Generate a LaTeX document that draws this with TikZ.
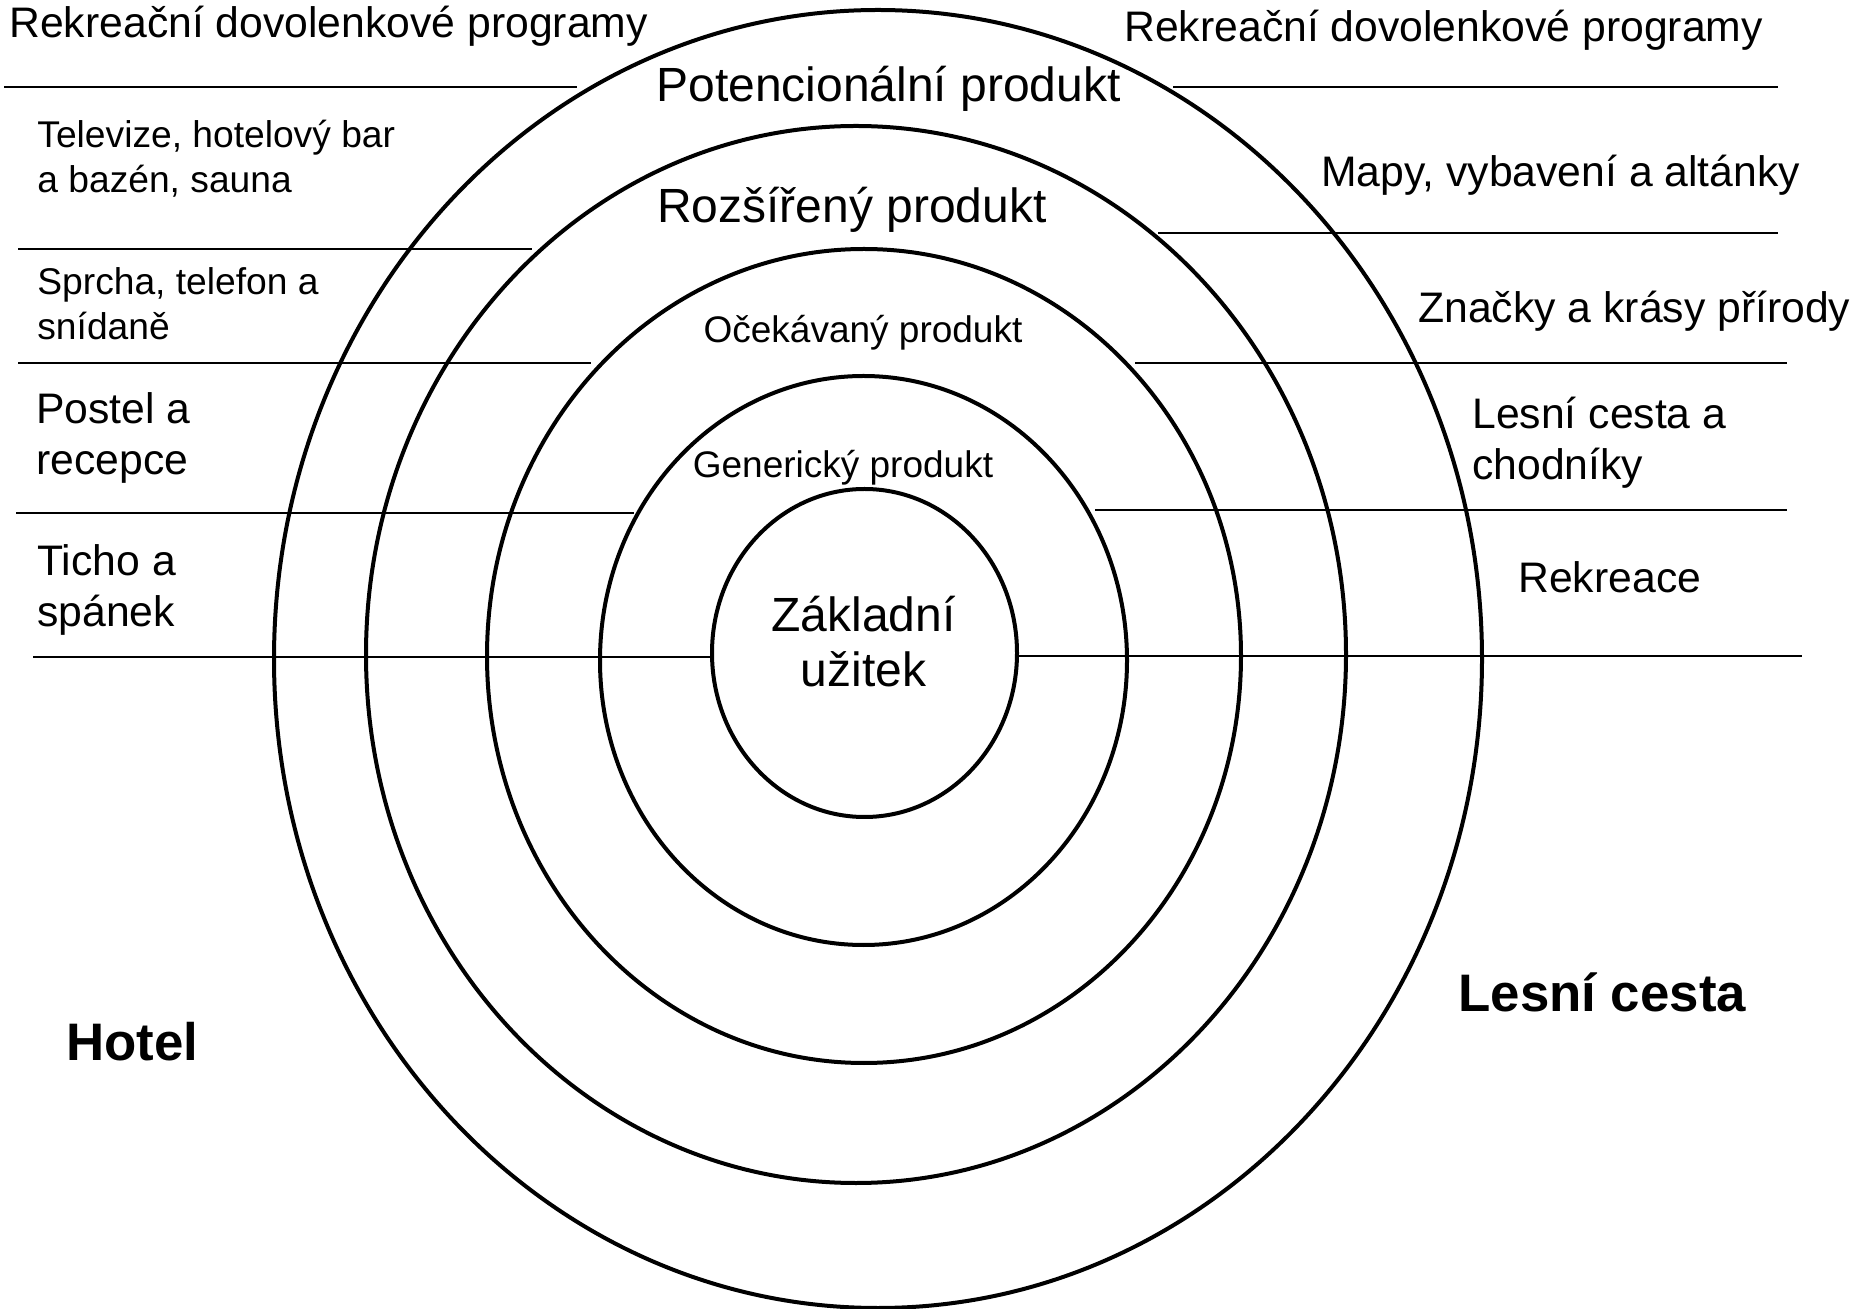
\documentclass[tikz,border=0pt]{standalone}
\usepackage{fontspec}
\setmainfont{Liberation Sans}
\begin{document}
\begin{tikzpicture}[x=0.5pt, y=-0.5pt,
		ring/.style={line width=2pt},
		rule/.style={line width=0.9pt},
		big/.style={font=\fontsize{24}{27.5}\selectfont, inner sep=0pt, anchor=base, align=center},
		mid/.style={font=\fontsize{18.5}{22}\selectfont, inner sep=0pt, anchor=base},
		side/.style={font=\fontsize{21.35}{25.5}\selectfont, inner sep=0pt, anchor=base west, align=left},
		small/.style={font=\fontsize{18.6}{22.5}\selectfont, inner sep=0pt, anchor=base west, align=left},
		place/.style={font=\fontsize{26.4}{30}\selectfont\bfseries, inner sep=0pt, anchor=base west}]
		\useasboundingbox (0,0) rectangle (1864,1309);
		% Product levels
		\foreach \cx/\cy/\rx/\ry in {864.5/653/152.5/164, 863.5/660.5/263.5/284.5, 864/656/377/407, 856/654.5/490/528.5, 878/659/604/649}
			\draw [ring] (\cx,\cy) ellipse [x radius=\rx, y radius=\ry];
		% Rules, hotel side and forest side
		\foreach \xa/\xb/\yy in {4/577/87, 18/532/249, 18/591/363, 16/634/513, 33/712/657}
			\draw [rule] (\xa,\yy) -- (\xb,\yy);
		\foreach \xa/\xb/\yy in {1173/1778/87, 1158/1778/233, 1135/1787/363, 1095/1787/510, 1017/1802/656}
			\draw [rule] (\xa,\yy) -- (\xb,\yy);
		% Level names (two-line nodes sit on their last baseline)
		\node [big] (potential) at (888.5,101.7) {Potencionální produkt};
		\node [big] (augmented) at (852,223) {Rozšířený produkt};
		\node [mid] (expected) at (863,343) {Očekávaný produkt};
		\node [mid] (generic) at (843,478) {Generický produkt};
		\node [big] (core) at (863.5,687) {Základní\\užitek};
		% Hotel
		\node [side] (hotel-prog) at (9,38) {Rekreační dovolenkové programy};
		\node [small] (hotel-tv) at (37,193) {Televize, hotelový bar\\a bazén, sauna};
		\node [small] (hotel-shower) at (37,340) {Sprcha, telefon a\\snídaně};
		\node [side] (hotel-bed) at (36,475) {Postel a\\recepce};
		\node [side] (hotel-sleep) at (37,627) {Ticho a\\spánek};
		\node [place] (hotel) at (66,1060) {Hotel};
		% Forest path
		\node [side] (path-prog) at (1124,42) {Rekreační dovolenkové programy};
		\node [side] (path-maps) at (1321,187) {Mapy, vybavení a altánky};
		\node [side] (path-signs) at (1418,323) {Značky a krásy přírody};
		\node [side] (path-walks) at (1472,480) {Lesní cesta a\\chodníky};
		\node [side] (path-rest) at (1518,593) {Rekreace};
		\node [place] (path) at (1458,1011.7) {Lesní cesta};
	\end{tikzpicture}
\end{document}
